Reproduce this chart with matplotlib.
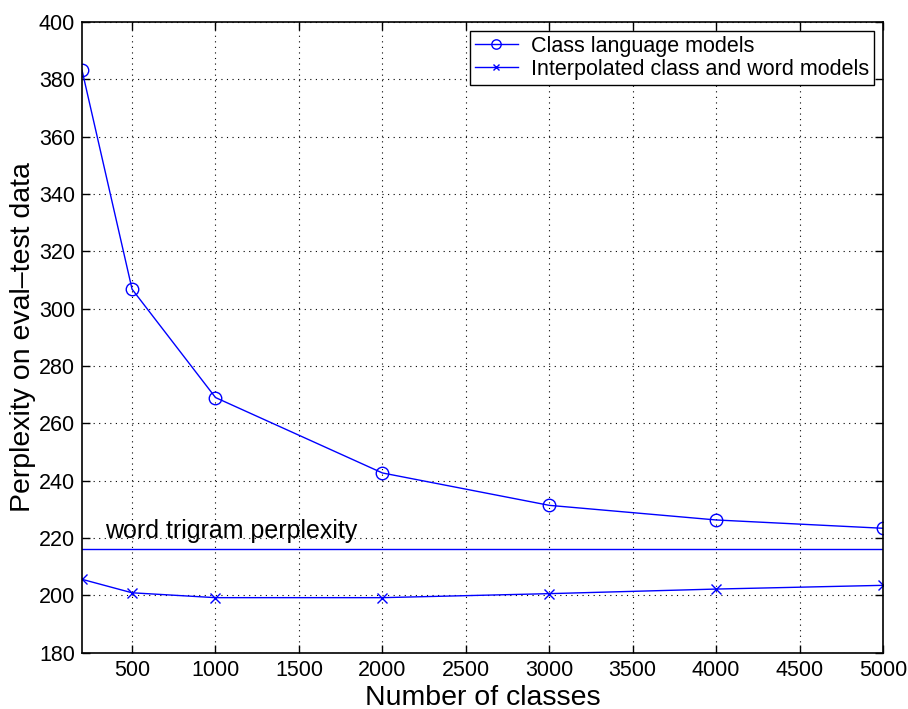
import matplotlib
matplotlib.use('Agg')
import matplotlib.pyplot as plt

plt.rcParams['font.family'] = ['Liberation Sans', 'DejaVu Sans']

num_classes = [200, 500, 1000, 2000, 3000, 4000, 5000]
class_ppl = [383.2, 306.8, 269.0, 242.7, 231.4, 226.3, 223.4]
interp_ppl = [205.6, 200.9, 199.2, 199.2, 200.6, 202.2, 203.5]
trigram_ppl = 216.1

x_ticks = [500, 1000, 1500, 2000, 2500, 3000, 3500, 4000, 4500, 5000]
y_ticks = list(range(180, 401, 20))

fig = plt.figure(figsize=(9.08, 7.09), dpi=100)
ax = fig.add_axes([0.0903, 0.0794, 0.8822, 0.8896])

blue = '#0000ff'
ax.plot(num_classes, class_ppl, color=blue, lw=1.0, marker='o', ms=9,
        mfc='none', mec=blue, mew=1.0, label='Class language models')
ax.plot(num_classes, interp_ppl, color=blue, lw=1.0, marker='x', ms=6.5,
        mec=blue, mew=1.0, label='Interpolated class and word models')
ax.axhline(trigram_ppl, color=blue, lw=1.0)
ax.text(340, trigram_ppl + 2.0, 'word trigram perplexity', fontsize=18,
        ha='left', va='bottom')

ax.set_xlim(200, 5000)
ax.set_ylim(180, 400)
ax.set_xticks(x_ticks)
ax.set_yticks(y_ticks)
ax.grid(True, linestyle=(0, (1, 4)), color='black', lw=0.8)
ax.tick_params(direction='in', top=True, right=True, labelsize=15.5,
               length=6, width=1.0, pad=5)
for s in ax.spines.values():
    s.set_linewidth(1.2)

ax.set_xlabel('Number of classes', fontsize=20.5, labelpad=3)
ax.set_ylabel('Perplexity on eval\u2013test data', fontsize=20.5, labelpad=2)

leg = ax.legend(loc='upper right', fontsize=15.5, fancybox=False,
                framealpha=1, edgecolor='black', borderaxespad=0.4,
                handlelength=2.0, handletextpad=0.6, markerscale=0.75,
                borderpad=0.25, labelspacing=0.08)
leg.get_frame().set_linewidth(1.0)

fig.savefig('out.png', dpi=100)
